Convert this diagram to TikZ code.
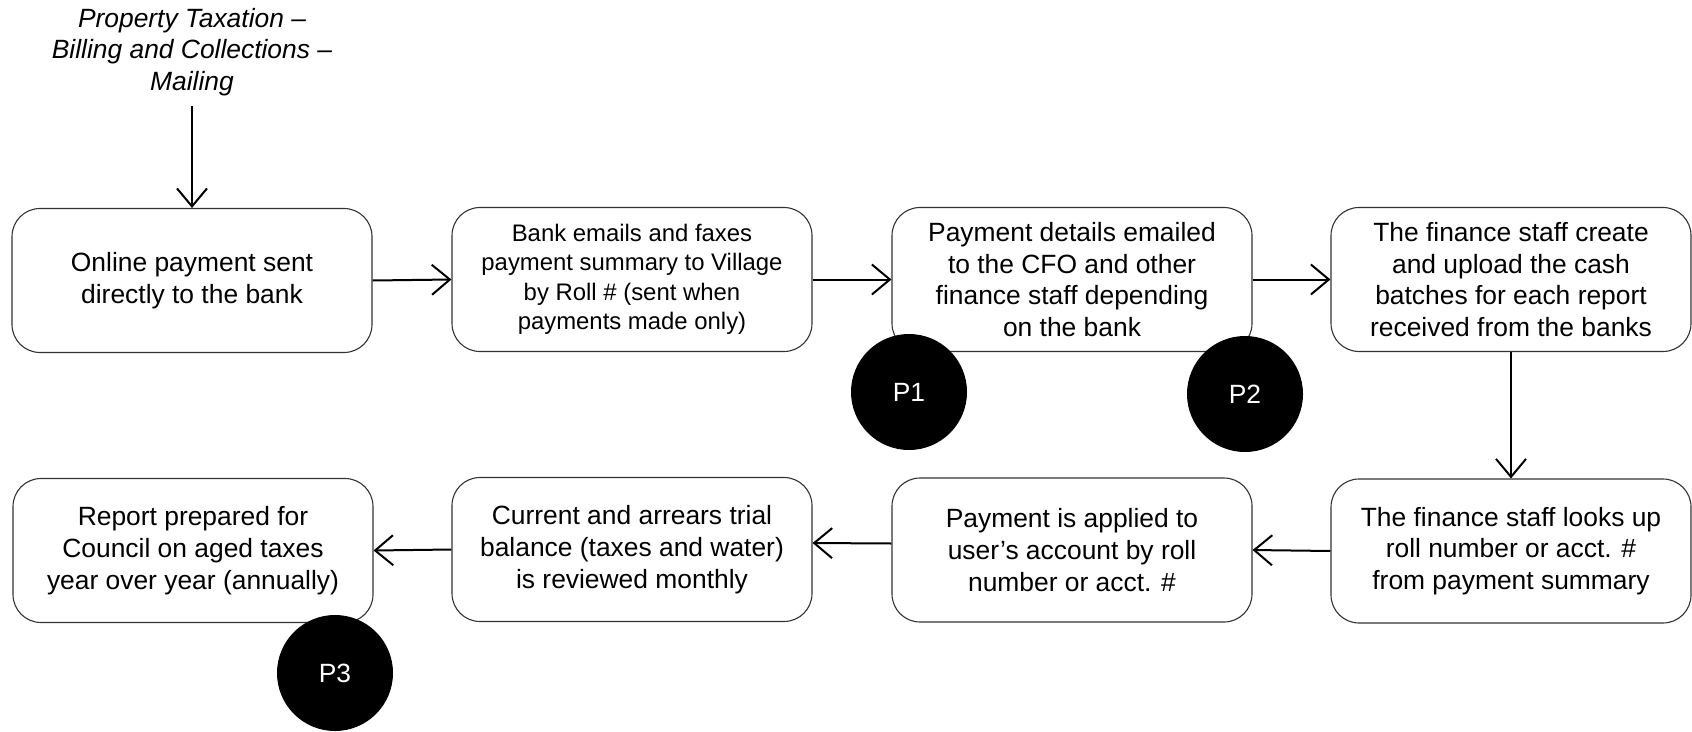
\documentclass[tikz,border=0pt]{standalone}
\usepackage{fontspec}
\setmainfont{Liberation Sans}
\usetikzlibrary{arrows.meta}
\tikzset{
  stepbox/.style={draw=black!80, line width=1.1pt, rounded corners=28pt, fill=white,
    minimum width=360pt, minimum height=144pt, align=center, inner sep=2pt,
    font=\fontsize{26.4}{31.7}\selectfont},
  smallbox/.style={stepbox, font=\fontsize{23.9}{29.5}\selectfont},
  flow/.style={line width=2pt, -{Straight Barb[length=18pt,width=30pt,line width=2pt]}},
  pmark/.style={circle, fill=black, minimum size=116pt, inner sep=0pt, text=white,
    font=\fontsize{26.4}{30}\selectfont}
}
\begin{document}
\begin{tikzpicture}[x=1pt,y=-1pt]
\useasboundingbox (0,0) rectangle (1692,731);
\node[font=\fontsize{26.4}{31.7}\selectfont\itshape, align=center] (title) at (192,52)
  {Property Taxation --\\Billing and Collections --\\Mailing};
\coordinate (tstart) at (192,106);

\node[stepbox] (b1) at (192,280.5) {Online payment sent\\directly to the bank};
\node[smallbox] (b2) at (632,279.5) {Bank emails and faxes\\payment summary to Village\\by Roll \# (sent when\\payments made only)};
\node[stepbox] (b3) at (1072,279.5) {Payment details emailed\\to the CFO and other\\finance staff depending\\on the bank};
\node[stepbox] (b4) at (1511,279.5) {The finance staff create\\and upload the cash\\batches for each report\\received from the banks};

\node[stepbox] (b5) at (1511,551) {The finance staff looks up\\roll number or acct. \#\\from payment summary};
\node[stepbox] (b7) at (1072,550) {Payment is applied to\\user’s account by roll\\number or acct. \#};
\node[stepbox] (b6) at (632,549.5) {Current and arrears trial\\balance (taxes and water)\\is reviewed monthly};
\node[stepbox] (b8) at (193,550.5) {Report prepared for\\Council on aged taxes\\year over year (annually)};

\draw[flow] (tstart) -- (b1.north);
\draw[flow] (b1.east) -- (b2.west);
\draw[flow] (b2.east) -- (b3.west);
\draw[flow] (b3.east) -- (b4.west);
\draw[flow] (b4.south) -- (b5.north);
\draw[flow] (b5.west) -- (b7.east);
\draw[flow] ([yshift=6.5pt]b7.west) -- ([yshift=6.5pt]b6.east);
\draw[flow] (b6.west) -- (b8.east);

\node[pmark] (p1) at (909,392) {P1};
\node[pmark] (p2) at (1245,394) {P2};
\node[pmark] (p3) at (335,673) {P3};
\end{tikzpicture}
\end{document}
